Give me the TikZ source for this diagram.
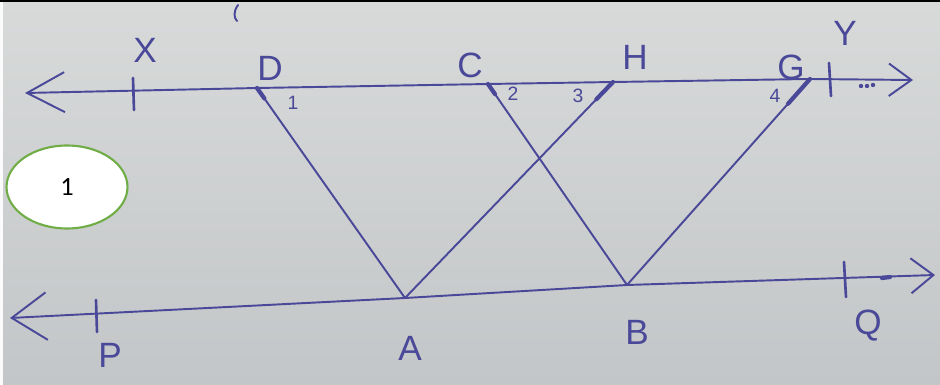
\documentclass[tikz,border=0pt]{standalone}
\usepackage{fontspec}
\setmainfont{Liberation Sans}
\newfontfamily\calib{Carlito}
\usetikzlibrary{arrows.meta,shapes.geometric,calc}
\definecolor{ink}{HTML}{4A4898}
\definecolor{papertop}{HTML}{D8DADA}
\definecolor{paperbot}{HTML}{C3C6C8}
\definecolor{okgreen}{HTML}{70AD47}
\tikzset{
  pen/.style={draw=ink,line width=1.1pt,line cap=round},
  thick pen/.style={draw=ink,line width=2.4pt,line cap=round},
  lbl/.style={text=ink,font=\fontsize{20}{24}\selectfont,inner sep=0pt},
  anglbl/.style={text=ink,font=\fontsize{11}{13}\selectfont,inner sep=0pt},
  tickmark/.style={draw=ink,line width=1.5pt,line cap=round},
}
\begin{document}
\begin{tikzpicture}[x=0.02cm,y=-0.02cm]
\useasboundingbox (0,0) rectangle (940,385);
\shade[top color=papertop,bottom color=paperbot] (0,0) rectangle (940,385);
\fill[white!90!papertop] (0,0) rectangle (3,385);
\fill[black] (0,0) rectangle (940,2.5);
% points on the lines
\coordinate (L1) at (25,93);
\coordinate (R1) at (913,80);
\coordinate (D) at (257,88);
\coordinate (C) at (488,84);
\coordinate (H) at (613,82);
\coordinate (G) at (810,79);
\coordinate (L2) at (10,318);
\coordinate (R2) at (935,275);
\coordinate (A) at (405,298);
\coordinate (B) at (627,285);
% tick positions
\coordinate (Xt1) at (133,78); \coordinate (Xt2) at (134,110);
\coordinate (Yt1) at (829,63); \coordinate (Yt2) at (831,96);
\coordinate (Pt1) at (96,300); \coordinate (Pt2) at (97,332);
\coordinate (Qt1) at (844,262); \coordinate (Qt2) at (846,297);
% parallel lines
\draw[pen,{Straight Barb[length=0.75cm,width=0.8cm,line width=1.1pt]}-{Straight Barb[length=0.45cm,width=0.65cm,line width=1.1pt]}] (L1) -- (D) -- (C) -- (H) -- (G) -- (R1);
\draw[pen,{Straight Barb[length=0.7cm,width=0.95cm,line width=1.1pt]}-{Straight Barb[length=0.45cm,width=0.7cm,line width=1.1pt]}] (L2) -- (A) -- (B) -- (R2);
% transversals
\draw[pen] (D) -- (A);
\draw[pen] (A) -- (H);
\draw[pen] (C) -- (B);
\draw[pen] (B) -- (G);
% angle marks
\draw[thick pen] (D) -- ($(D)!0.05!(A)$);
\draw[thick pen] (C) -- ($(C)!0.05!(B)$);
\draw[thick pen] (H) -- ($(H)!0.08!(A)$);
\draw[thick pen] (G) -- ($(G)!0.12!(B)$);
% ticks
\draw[tickmark] (Xt1) -- (Xt2);
\draw[tickmark] (Yt1) -- (Yt2);
\draw[tickmark] (Pt1) -- (Pt2);
\draw[tickmark] (Qt1) -- (Qt2);
% dots
\fill[ink] (861,86) circle (2.2);
\fill[ink] (867,86) circle (2.2);
\fill[ink] (873,85) circle (2.2);
\draw[thick pen] (882,278) -- (890,277);
% stray stroke at top
\draw[pen] (238,5) .. controls (233,12) and (234,18) .. (237,21);
% labels
\node[lbl] (lX) at (145,50) {X};
\node[lbl] (lD) at (270,68) {D};
\node[lbl] (lC) at (470,65) {C};
\node[lbl] (lH) at (635,57) {H};
\node[lbl] (lG) at (791,67) {G};
\node[lbl] (lY) at (845,33) {Y};
\node[lbl] (lP) at (110,355) {P};
\node[lbl] (lA) at (410,348) {A};
\node[lbl] (lB) at (637,332) {B};
\node[lbl] (lQ) at (868,326) {Q};
\node[anglbl] (a1) at (293,103) {1};
\node[anglbl] (a2) at (513,94) {2};
\node[anglbl] (a3) at (578,96) {3};
\node[anglbl] (a4) at (775,96) {4};
% badge
\node[ellipse,draw=okgreen,line width=1.2pt,fill=white,minimum width=2.42cm,minimum height=1.66cm,font=\calib\fontsize{15}{18}\selectfont] (badge) at (67,187) {1};
\end{tikzpicture}
\end{document}
